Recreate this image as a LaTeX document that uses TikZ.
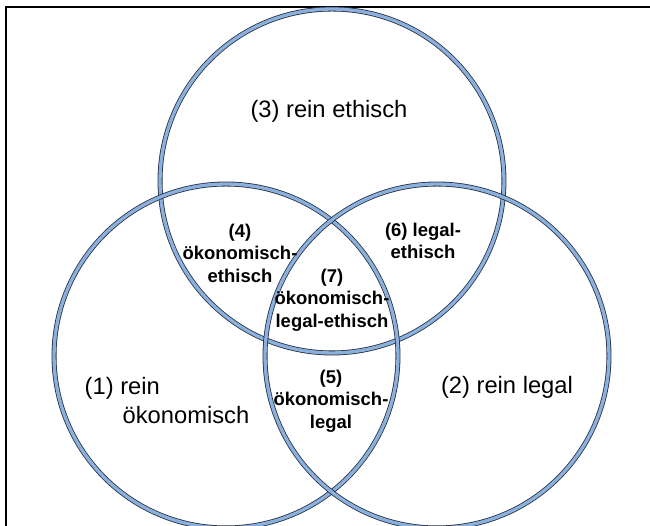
\documentclass[tikz,border=0pt]{standalone}
\usepackage{fontspec}
\setmainfont{Liberation Sans}
\usetikzlibrary{positioning}
\definecolor{kreisblau}{RGB}{140,176,220}
\definecolor{kreisrand}{RGB}{35,45,65}
\tikzset{
    kreis/.style = {circle, minimum size=6.88cm, inner sep=0pt,
        draw=kreisblau, line width=1.9pt,
        preaction={draw=kreisrand, line width=2.8pt}},
    gross/.style = {font=\fontsize{13.5pt}{16.5pt}\selectfont, align=center, inner sep=0pt},
    klein/.style = {font=\bfseries\fontsize{10.5pt}{12.8pt}\selectfont, align=center, inner sep=0pt},
}
\begin{document}
\begin{tikzpicture}[x=0.02cm, y=-0.02cm]
    \useasboundingbox (0,0) rectangle (650,526);
    \draw[line width=1.1pt] (6,526) -- (6,7) -- (650,7);
    % die drei Kreise
    \node (eth) [kreis] at (332,181) {};
    \node (oek) [kreis] at (226,356) {};
    \node (leg) [kreis] at (437,356) {};
    % Beschriftung
    \node (rein3) [gross] at (329,111) {(3) rein ethisch};
    \node (oekEth) [klein] at (240,253) {(4)\\ökonomisch-\\ethisch};
    \node (legEth) [klein] at (423,241) {(6) legal-\\ethisch};
    \node (alle) [klein] at (332,300) {(7)\\ökonomisch-\\legal-ethisch};
    \node (oekLeg) [klein] at (331,401) {(5)\\ökonomisch-\\legal};
    \node (rein1) [gross, align=left] at (167,401) {(1) rein\\\hspace*{1.6em}ökonomisch};
    \node (rein2) [gross] at (507,387) {(2) rein legal};
\end{tikzpicture}
\end{document}
